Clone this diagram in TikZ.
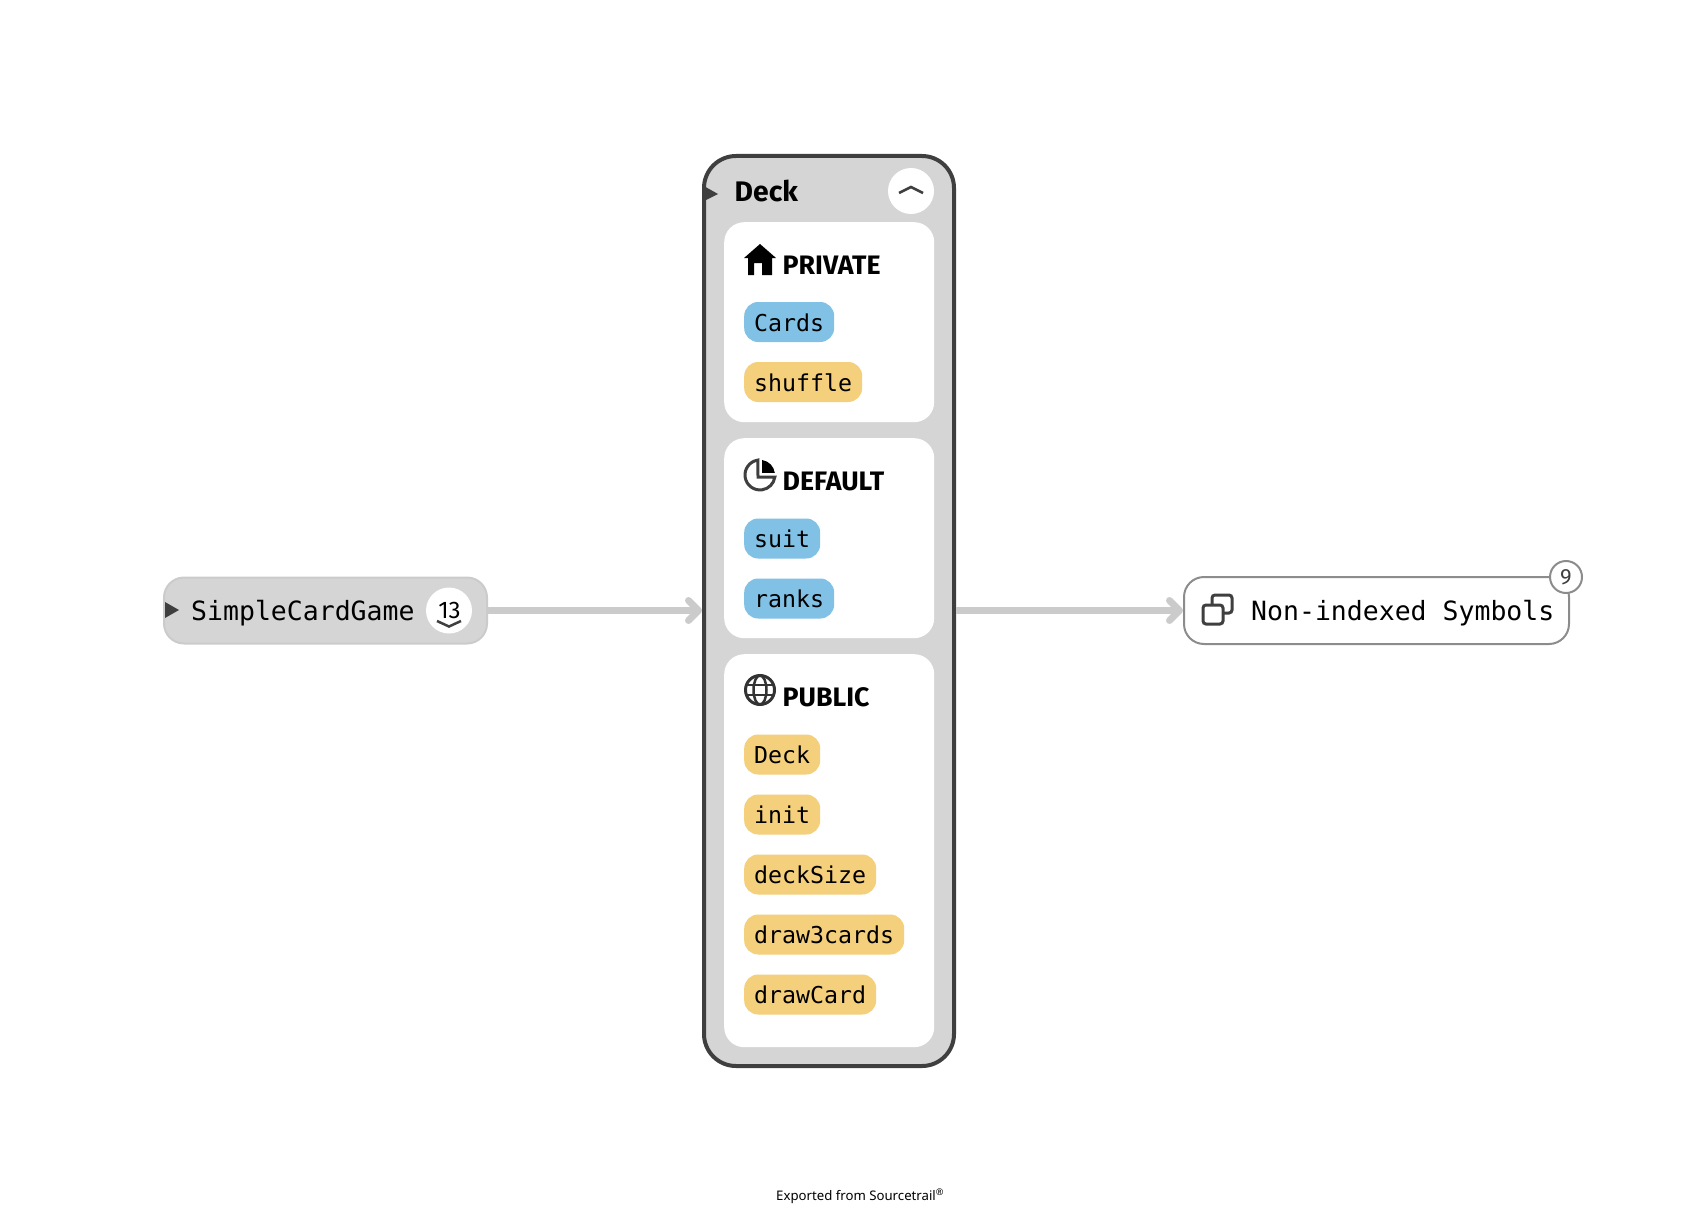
\documentclass[tikz,border=0pt]{standalone}
\usepackage{fontspec}
\usepackage{tikz}
\usetikzlibrary{arrows.meta}
\setmainfont{Fira Sans}
\newfontfamily\codefont{DejaVu Sans Mono}
\newfontfamily\footfont{Noto Sans}

\definecolor{nodegray}{HTML}{D5D5D5}
\definecolor{edgegray}{HTML}{CBCBCB}
\definecolor{rimgray}{HTML}{3F3F3F}
\definecolor{fieldblue}{HTML}{81C1E5}
\definecolor{funcyellow}{HTML}{F4CF7C}

\tikzset{
  pill/.style={anchor=west,rounded corners=14pt,inner xsep=10pt,inner ysep=11pt,
    text height=18pt,text depth=0pt,font=\codefont\fontsize{23.25}{24}\selectfont},
  fieldpill/.style={pill,fill=fieldblue},
  funcpill/.style={pill,fill=funcyellow},
  groupbox/.style={anchor=north west,fill=white,rounded corners=20pt,inner sep=0pt,minimum width=210pt},
  grouptitle/.style={anchor=base west,inner sep=0pt,font=\fontsize{26.7}{28}\selectfont\bfseries},
  bubble/.style={circle,fill=white,inner sep=0pt,minimum size=46pt},
  chevron/.style={rimgray,line width=2.5pt},
  edgeline/.style={edgegray,line width=7pt,-{Straight Barb[length=10pt,width=20pt,round]}},
  bignode/.style={rounded corners=20pt,inner sep=0pt,anchor=west,line width=2pt},
  bigtext/.style={anchor=base west,inner sep=0pt,font=\codefont\fontsize{26.5}{28}\selectfont},
}

\begin{document}
\begin{tikzpicture}[x=1pt,y=-1pt]
  \useasboundingbox (0,0) rectangle (1708,1212);

% outer nodes
  \node[bignode,draw=edgegray,fill=nodegray,minimum width=323pt,minimum height=66pt] (game) at (163,610.5) {};
  \node[bignode,draw=rimgray,line width=4pt,fill=nodegray,rounded corners=32pt,minimum width=250pt,minimum height=910pt] (deck) at (702,611) {};
  \node[bignode,draw=black!45,fill=white,minimum width=385pt,minimum height=67pt] (symbols) at (1183,610.5) {};

% edges
  \draw[edgeline] (game.east) -- (game.east -| deck.west);
  \draw[edgeline] (deck.east |- symbols.west) -- (symbols.west);

% SimpleCardGame
  \fill[rimgray] (165,602) -- (179,610) -- (165,618) -- cycle;
  \node[bigtext] (gamename) at (191,620) {SimpleCardGame};
  \node[bubble] (gamebubble) at (449,610.5) {};
  \node[inner sep=0pt,font=\fontsize{24}{25}\selectfont] (gamecount) at (449.5,610.5) {13};
  \draw[chevron] (437,621) -- (449,626.5) -- (461,621);

% Deck header
  \fill[rimgray] (702,185) -- (718,194) -- (702,202) -- cycle;
  \node[anchor=base west,inner sep=0pt,font=\fontsize{28.3}{30}\selectfont\bfseries] (deckname) at (734.5,201) {Deck};
  \node[bubble] (deckbubble) at (911,191) {};
  \draw[chevron] (899,193) -- (911,187) -- (923,193);

% groups
  \node[groupbox,minimum height=200pt] (privategroup) at (724,222) {};
  \node[groupbox,minimum height=200pt] (defaultgroup) at (724,438) {};
  \node[groupbox,minimum height=393pt] (publicgroup) at (724,654) {};

% house icon
  \fill (760,244) -- (776,258) -- (772,258) -- (772,275) -- (762,275) -- (762,263)
        -- (754,263) -- (754,275) -- (748,275) -- (748,258) -- (744,258) -- cycle;
  \node[grouptitle] (privatetitle) at (782.5,274) {PRIVATE};

% pie icon
  \draw[line width=3pt,rimgray] (757.9,460.1) arc (262:8:15) -- (758,477) -- cycle;
  \fill (762,460) arc (278:352:15) -- (762,473) -- cycle;
  \node[grouptitle] (defaulttitle) at (782.5,490) {DEFAULT};

% globe icon
  \draw[line width=3pt,black!80] (760,690) circle (14.5pt);
  \draw[line width=2.5pt,black!80] (760,690) ellipse (6.5pt and 14.5pt);
  \draw[line width=2.5pt,black!80] (747,685) -- (773,685);
  \draw[line width=2.5pt,black!80] (747,695) -- (773,695);
  \node[grouptitle] (publictitle) at (782.5,706) {PUBLIC};

% members
  \node[fieldpill] (cards) at (744,322) {Cards};
  \node[funcpill] (shuffle) at (744,382) {shuffle};
  \node[fieldpill] (suit) at (744,538.5) {suit};
  \node[fieldpill] (ranks) at (744,598.5) {ranks};
  \node[funcpill] (deckinit) at (744,754.5) {Deck};
  \node[funcpill] (init) at (744,814.5) {init};
  \node[funcpill] (decksize) at (744,874.5) {deckSize};
  \node[funcpill] (draw3cards) at (744,934.5) {draw3cards};
  \node[funcpill] (drawcard) at (744,994.5) {drawCard};

% Non-indexed Symbols
  \draw[line width=3pt,rimgray,rounded corners=3pt] (1212,605) -- (1212,595) -- (1232,595) -- (1232,613) -- (1223,613);
  \draw[line width=3pt,rimgray,rounded corners=3pt] (1203,605) rectangle (1223,624);
  \node[bigtext] (symbolsname) at (1251,620) {Non-indexed Symbols};
  \node[circle,draw=black!45,line width=2pt,fill=white,inner sep=0pt,minimum size=32pt,
        font=\fontsize{22}{24}\selectfont,text=rimgray] (symbolscount) at (1566,577) {9};

% footer
  \node[anchor=base west,inner sep=0pt,font=\footfont\fontsize{13.2}{15}\selectfont] (footer) at (776,1200)
    {Exported from Sourcetrail\textsuperscript{\textregistered}};
\end{tikzpicture}
\end{document}
